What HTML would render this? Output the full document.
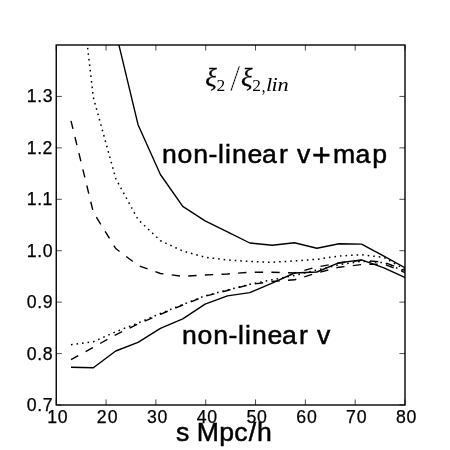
<!DOCTYPE html>
<html>
<head>
<meta charset="utf-8">
<title>xi2 ratio plot</title>
<style>
html,body{margin:0;padding:0;background:#fff;}
body{width:450px;height:450px;overflow:hidden;font-family:"Liberation Sans",sans-serif;}
svg{display:block;will-change:transform;filter:grayscale(1);}
.tl{font-family:"Liberation Sans",sans-serif;font-size:17.7px;fill:#000;stroke:#000;stroke-width:0.25px;}
.big{font-family:"Liberation Sans",sans-serif;font-size:26.1px;fill:#000;stroke:#000;stroke-width:0.5px;}
.curve{fill:none;stroke:#000;stroke-width:1.39;stroke-linejoin:round;stroke-linecap:butt;}
.dash{stroke-dasharray:8.33 8.33;}
.dot{stroke-dasharray:1.6 3.96;stroke-width:1.5;}
.mi{font-family:"Liberation Serif",serif;font-style:italic;fill:#000;}
.mr{font-family:"Liberation Serif",serif;fill:#000;}
.ms{font-family:"Liberation Serif",serif;fill:#000;stroke:#fff;stroke-width:0.7px;}
.mx{font-family:"Liberation Serif",serif;font-style:italic;fill:#000;stroke:#000;stroke-width:0.3px;}
</style>
</head>
<body>
<svg width="450" height="450" viewBox="0 0 450 450">
<rect x="0" y="0" width="450" height="450" fill="#fff"/>
<defs><clipPath id="ax"><rect x="56.25" y="45.0" width="348.75" height="360.0"/></clipPath></defs>
<g clip-path="url(#ax)">
<polyline class="curve" points="116.05,33.00 138.05,124.70 160.40,174.50 182.75,206.30 205.10,220.80 227.45,231.90 249.80,243.00 272.15,245.30 294.50,242.80 316.85,248.20 339.20,243.70 361.55,244.10 383.90,256.10 406.25,268.50"/>
<polyline class="curve dot" stroke-dashoffset="1.75" points="85.90,33.00 93.35,97.50 115.70,178.50 138.05,219.50 160.40,240.70 182.75,251.00 205.10,257.20 227.45,260.00 249.80,261.50 272.15,262.30 294.50,260.90 316.85,259.30 339.20,256.00 361.55,254.80 383.90,257.40 406.25,270.30"/>
<polyline class="curve dash" points="71.00,120.80 93.35,212.30 115.70,248.50 138.05,265.50 160.40,273.50 182.75,276.30 205.10,275.00 227.45,274.00 249.80,272.20 272.15,272.20 294.50,273.00 316.85,267.00 339.20,263.00 361.55,260.30 383.90,262.10 406.25,271.00"/>
<polyline class="curve" points="71.00,367.20 93.35,367.80 115.70,351.00 138.05,342.30 160.40,328.30 182.75,318.80 205.10,304.20 227.45,295.90 249.80,292.60 272.15,283.20 294.50,273.00 316.85,272.00 339.20,262.70 361.55,259.90 383.90,267.80 406.25,278.00"/>
<polyline class="curve dot" points="71.00,344.70 93.35,341.70 115.70,331.80 138.05,323.00 160.40,313.50 182.75,304.50 205.10,295.80 227.45,290.00 249.80,284.30 272.15,279.80 294.50,275.50 316.85,270.00 339.20,264.70 361.55,261.30 383.90,262.60 406.25,272.00"/>
<polyline class="curve dash" points="71.00,359.70 93.35,347.30 115.70,334.80 138.05,324.00 160.40,314.30 182.75,305.00 205.10,296.20 227.45,290.50 249.80,284.60 272.15,281.50 294.50,279.80 316.85,273.00 339.20,267.20 361.55,264.60 383.90,264.10 406.25,273.00"/>
</g>
<g stroke="#000" stroke-width="0.7">
<line x1="56.25" y1="405.00" x2="56.25" y2="399.44"/>
<line x1="56.25" y1="45.00" x2="56.25" y2="50.56"/>
<line x1="106.07" y1="405.00" x2="106.07" y2="399.44"/>
<line x1="106.07" y1="45.00" x2="106.07" y2="50.56"/>
<line x1="155.89" y1="405.00" x2="155.89" y2="399.44"/>
<line x1="155.89" y1="45.00" x2="155.89" y2="50.56"/>
<line x1="205.71" y1="405.00" x2="205.71" y2="399.44"/>
<line x1="205.71" y1="45.00" x2="205.71" y2="50.56"/>
<line x1="255.54" y1="405.00" x2="255.54" y2="399.44"/>
<line x1="255.54" y1="45.00" x2="255.54" y2="50.56"/>
<line x1="305.36" y1="405.00" x2="305.36" y2="399.44"/>
<line x1="305.36" y1="45.00" x2="305.36" y2="50.56"/>
<line x1="355.18" y1="405.00" x2="355.18" y2="399.44"/>
<line x1="355.18" y1="45.00" x2="355.18" y2="50.56"/>
<line x1="405.00" y1="405.00" x2="405.00" y2="399.44"/>
<line x1="405.00" y1="45.00" x2="405.00" y2="50.56"/>
<line x1="56.25" y1="405.00" x2="61.81" y2="405.00"/>
<line x1="405.00" y1="405.00" x2="399.44" y2="405.00"/>
<line x1="56.25" y1="353.57" x2="61.81" y2="353.57"/>
<line x1="405.00" y1="353.57" x2="399.44" y2="353.57"/>
<line x1="56.25" y1="302.14" x2="61.81" y2="302.14"/>
<line x1="405.00" y1="302.14" x2="399.44" y2="302.14"/>
<line x1="56.25" y1="250.71" x2="61.81" y2="250.71"/>
<line x1="405.00" y1="250.71" x2="399.44" y2="250.71"/>
<line x1="56.25" y1="199.29" x2="61.81" y2="199.29"/>
<line x1="405.00" y1="199.29" x2="399.44" y2="199.29"/>
<line x1="56.25" y1="147.86" x2="61.81" y2="147.86"/>
<line x1="405.00" y1="147.86" x2="399.44" y2="147.86"/>
<line x1="56.25" y1="96.43" x2="61.81" y2="96.43"/>
<line x1="405.00" y1="96.43" x2="399.44" y2="96.43"/>
</g>
<rect x="56.25" y="45.0" width="348.75" height="360.0" fill="none" stroke="#000" stroke-width="1.39"/>
<g>
<text class="tl"  x="47.13 57.83" y="422.70">10</text>
<text class="tl"  x="96.83 107.65" y="422.70">20</text>
<text class="tl"  x="146.89 157.47" y="422.70">30</text>
<text class="tl"  x="196.69 207.29" y="422.70">40</text>
<text class="tl"  x="246.45 257.12" y="422.70">50</text>
<text class="tl"  x="296.33 306.94" y="422.70">60</text>
<text class="tl"  x="346.12 356.76" y="422.70">70</text>
<text class="tl"  x="395.98 406.58" y="422.70">80</text>
<text class="tl"  x="26.78 37.19 42.64" y="411.05">0.7</text>
<text class="tl"  x="26.78 37.19 42.68" y="359.62">0.8</text>
<text class="tl"  x="26.78 37.19 42.63" y="308.19">0.9</text>
<text class="tl"  x="26.68 37.19 42.68" y="256.76">1.0</text>
<text class="tl"  x="26.68 37.19 42.59" y="205.34">1.1</text>
<text class="tl"  x="26.68 37.19 42.46" y="153.91">1.2</text>
<text class="tl"  x="26.68 37.19 42.70" y="102.48">1.3</text>
</g>
<text class="big"  transform="translate(0 163.30) scale(1.020 1)" x="158.90 174.11 189.42 204.47 213.75 220.57 227.42 242.73 256.79 273.65 282.57 291.09 305.94 326.53 348.60 364.97" y="0">non-linear v<tspan font-size="31.50" dy="2.60">+</tspan><tspan dy="-2.60">m</tspan>ap</text>
<text class="big"  transform="translate(0 343.50) scale(1.020 1)" x="178.50 193.72 209.03 224.08 233.35 240.18 247.03 262.33 276.40 293.26 302.18 310.70" y="0">non-linear v</text>
<text class="big"  transform="translate(0 441.00) scale(1.020 1)" x="172.58 185.32 192.82 214.93 229.73 243.79 252.07" y="0">s Mpc/h</text>
<g id="math">
<text class="mx" font-size="25.80" transform="translate(205.18 85.83) scale(1.039 1)">ξ</text>
<text class="mr" font-size="16.60" transform="translate(216.53 91.40) scale(1.052 1)">2</text>
<text class="ms" font-size="37.40" transform="translate(229.90 90.93) scale(0.991 1)">/</text>
<text class="mx" font-size="25.80" transform="translate(240.98 85.83) scale(1.039 1)">ξ</text>
<text class="mr" font-size="16.60" transform="translate(252.33 91.40) scale(1.052 1)">2</text>
<text class="mr" font-size="19.50" transform="translate(261.84 91.80) scale(0.758 1)">,</text>
<text class="mi" font-size="17.80" transform="translate(0 91.40) scale(1.258 1)" x="211.40 215.78 220.60" y="0">lin</text>
</g>
</svg>
</body>
</html>
